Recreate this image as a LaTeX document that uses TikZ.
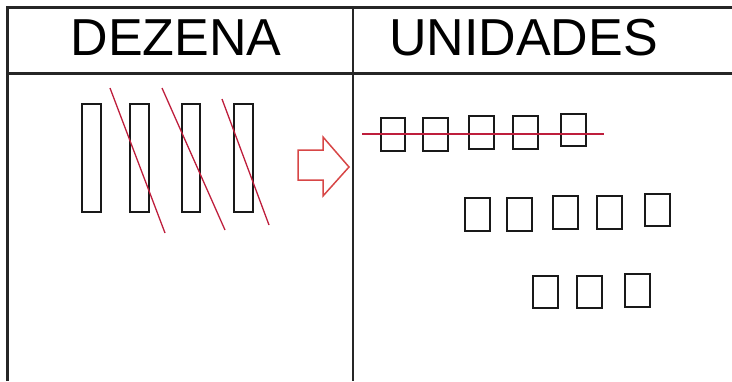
\documentclass[tikz,border=0pt]{standalone}
\usepackage{fontspec}
\setmainfont{Liberation Sans}
\definecolor{cross}{RGB}{190,30,60}
\definecolor{arrowred}{RGB}{215,70,70}
\tikzset{
	frame/.style={line width=2.1pt,color=black!85},
	block/.style={line width=2pt,color=black!90},
	strike/.style={line width=1.3pt,color=cross},
	title/.style={font=\fontsize{52}{52}\selectfont,anchor=base,inner sep=0pt}
}

\begin{document}
\begin{tikzpicture}[x=1pt,y=-1pt]
	\useasboundingbox (0,0) rectangle (732,381);

	%TABLE
	\draw[frame] (7.5,381)--(7.5,7.5)--(732,7.5);		%left and top border
	\draw[frame] (7.5,73.5)--(732,73.5);				%header line
	\draw[frame] (353,7.5)--(353,381);				%middle line

	%TITLES
	\node[title] (dezena) at (176,55)	{DEZENA};
	\node[title] (unidades) at (523.5,55)	{UNIDADES};

	%RODS
	\draw[block] (82,104) rectangle (101,212);	%rod 1
	\draw[block] (130,104) rectangle (149,212);	%rod 2
	\draw[block] (182,104) rectangle (200,212);	%rod 3
	\draw[block] (234,104) rectangle (252.5,212);	%rod 4
		\draw[strike] (110,88)--(165,233);
		\draw[strike] (162,88)--(225,230);
		\draw[strike] (222,99)--(269,225);

	%ARROW
	\draw[line width=1.5pt,color=arrowred,line join=miter]
		(298,150)--(323,150)--(323,137)--(349,167)--(323,196)--(323,180)--(298,180)--cycle;

	%UNITS - top row
	\draw[block] (381,118) rectangle (405,151);
	\draw[block] (423,118) rectangle (447.5,151);
	\draw[block] (469,116) rectangle (494,148.5);
	\draw[block] (513,116) rectangle (537.5,148.5);
	\draw[block] (561,114) rectangle (585.5,146);
		\draw[strike] (362,134)--(604,134);

	%UNITS - middle row
	\draw[block] (464.5,198) rectangle (490,230.5);
	\draw[block] (507,198) rectangle (532,230.5);
	\draw[block] (553,196) rectangle (577.5,228.5);
	\draw[block] (597,196) rectangle (622,228.5);
	\draw[block] (645,194) rectangle (670,226);

	%UNITS - low row
	\draw[block] (533,276) rectangle (557.5,308);
	\draw[block] (577,276) rectangle (602,308);
	\draw[block] (625,274) rectangle (650,306.5);
\end{tikzpicture}
\end{document}
